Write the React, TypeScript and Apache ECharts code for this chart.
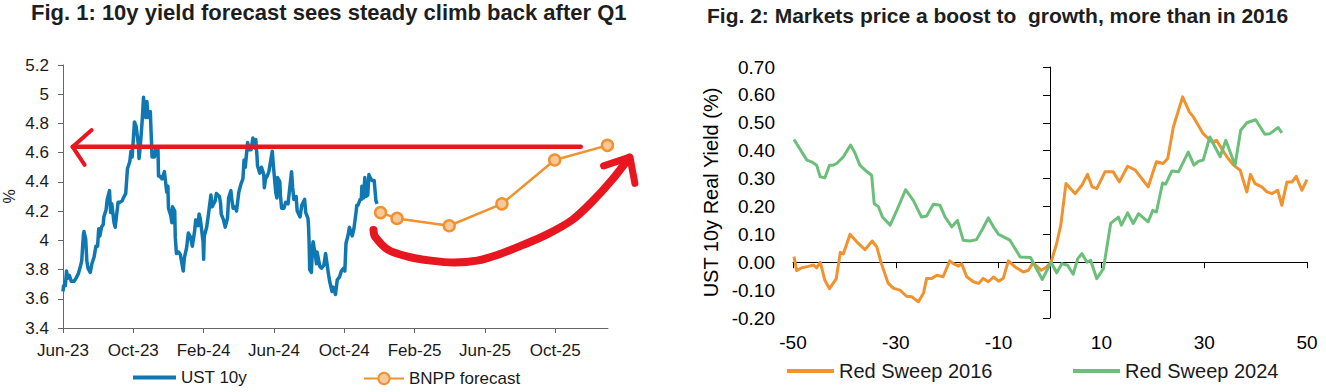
import React, { useEffect, useRef } from 'react';
import * as echarts from 'echarts';

// ---------- Fig. 1 data ----------
const X_TICK_MONTHS = [0, 4, 8, 12, 16, 20, 24, 28];
const X_TICK_LABELS = ['Jun-23', 'Oct-23', 'Feb-24', 'Jun-24', 'Oct-24', 'Feb-25', 'Jun-25', 'Oct-25'];

const UST_DATES = [
  '2023-06-01','2023-06-02','2023-06-05','2023-06-07','2023-06-09','2023-06-12','2023-06-15','2023-06-20','2023-06-23','2023-06-27','2023-06-30',
  '2023-07-03','2023-07-06','2023-07-07','2023-07-10','2023-07-12','2023-07-14','2023-07-18','2023-07-21','2023-07-25','2023-07-28','2023-07-31',
  '2023-08-02','2023-08-04','2023-08-07','2023-08-10','2023-08-11','2023-08-15','2023-08-17','2023-08-21','2023-08-23','2023-08-25','2023-08-29','2023-08-31',
  '2023-09-05','2023-09-08','2023-09-12','2023-09-14','2023-09-18','2023-09-21','2023-09-25','2023-09-27','2023-09-29',
  '2023-10-03','2023-10-06','2023-10-10','2023-10-11','2023-10-13','2023-10-17','2023-10-19','2023-10-20','2023-10-23','2023-10-25','2023-10-27','2023-10-31',
  '2023-11-02','2023-11-03','2023-11-07','2023-11-09','2023-11-13','2023-11-14','2023-11-16','2023-11-20','2023-11-24','2023-11-28','2023-11-30',
  '2023-12-01','2023-12-05','2023-12-07','2023-12-08','2023-12-12','2023-12-13','2023-12-15','2023-12-19','2023-12-22','2023-12-27','2023-12-29',
  '2024-01-02','2024-01-05','2024-01-09','2024-01-12','2024-01-16','2024-01-18','2024-01-22','2024-01-24','2024-01-26','2024-01-31',
  '2024-02-01','2024-02-02','2024-02-06','2024-02-09','2024-02-13','2024-02-15','2024-02-20','2024-02-22','2024-02-27','2024-02-29',
  '2024-03-01','2024-03-05','2024-03-08','2024-03-12','2024-03-14','2024-03-18','2024-03-20','2024-03-22','2024-03-26','2024-03-28',
  '2024-04-01','2024-04-03','2024-04-05','2024-04-08','2024-04-10','2024-04-12','2024-04-16','2024-04-19','2024-04-22','2024-04-25','2024-04-29','2024-04-30',
  '2024-05-02','2024-05-03','2024-05-07','2024-05-10','2024-05-14','2024-05-15','2024-05-17','2024-05-20','2024-05-23','2024-05-29','2024-05-31',
  '2024-06-04','2024-06-06','2024-06-07','2024-06-11','2024-06-12','2024-06-14','2024-06-18','2024-06-21','2024-06-25','2024-06-28',
  '2024-07-01','2024-07-03','2024-07-05','2024-07-09','2024-07-11','2024-07-16','2024-07-19','2024-07-24','2024-07-26','2024-07-30','2024-07-31',
  '2024-08-01','2024-08-02','2024-08-05','2024-08-07','2024-08-08','2024-08-12','2024-08-14','2024-08-15','2024-08-20','2024-08-23','2024-08-27','2024-08-30',
  '2024-09-04','2024-09-06','2024-09-10','2024-09-12','2024-09-16','2024-09-19','2024-09-23','2024-09-26','2024-09-30',
  '2024-10-02','2024-10-04','2024-10-08','2024-10-10','2024-10-15','2024-10-18','2024-10-22','2024-10-23','2024-10-25','2024-10-29','2024-10-31',
  '2024-11-01','2024-11-04','2024-11-06','2024-11-08','2024-11-11','2024-11-13','2024-11-15','2024-11-18','2024-11-20','2024-11-22','2024-11-25','2024-11-27',
];
const UST_VALUES = [
  3.65,3.69,3.69,3.79,3.74,3.76,3.72,3.72,3.74,3.77,3.81,
  3.86,4.04,4.06,4.01,3.86,3.81,3.78,3.84,3.89,3.96,3.96,
  4.08,4.03,4.09,4.11,4.16,4.21,4.28,4.34,4.19,4.25,4.12,4.09,
  4.26,4.26,4.27,4.29,4.32,4.49,4.54,4.61,4.57,
  4.81,4.78,4.65,4.56,4.63,4.84,4.98,4.93,4.84,4.95,4.84,4.88,
  4.67,4.57,4.57,4.62,4.64,4.44,4.44,4.42,4.47,4.33,4.37,
  4.22,4.17,4.12,4.23,4.20,4.02,3.91,3.92,3.90,3.79,3.88,
  3.95,4.05,4.02,3.96,4.06,4.14,4.10,4.18,4.15,3.99,
  3.87,4.03,4.09,4.18,4.31,4.23,4.27,4.32,4.30,4.25,
  4.18,4.14,4.09,4.15,4.29,4.34,4.27,4.22,4.23,4.20,
  4.33,4.36,4.39,4.42,4.55,4.50,4.67,4.62,4.62,4.70,4.63,4.69,
  4.58,4.51,4.46,4.50,4.45,4.36,4.42,4.44,4.47,4.61,4.51,
  4.33,4.29,4.43,4.40,4.31,4.22,4.22,4.26,4.25,4.36,
  4.47,4.36,4.28,4.30,4.20,4.16,4.24,4.28,4.19,4.15,4.09,
  3.98,3.80,3.78,3.96,3.99,3.90,3.84,3.92,3.82,3.81,3.83,3.91,
  3.77,3.72,3.65,3.68,3.63,3.73,3.75,3.79,3.81,
  3.79,3.98,4.04,4.09,4.03,4.08,4.20,4.24,4.24,4.28,4.28,
  4.37,4.29,4.43,4.30,4.31,4.45,4.43,4.41,4.41,4.41,4.27,4.25,
];

const FORECAST_DATES = ['2024-12-03', '2025-01-01', '2025-03-31', '2025-06-30', '2025-09-30', '2025-12-31'];
const FORECAST_VALUES = [4.19, 4.15, 4.10, 4.25, 4.55, 4.65];

// Hand-drawn red annotations, in (month index, yield) units
const LEVEL_LINE = [[0.55, 4.64], [29.45, 4.64]];
const LEFT_ARROW_HEAD = [[1.63, 4.755], [0.55, 4.64], [1.23, 4.516]];
const CLIMB_CURVE = [
  [17.66, 4.07], [17.75, 4.026], [18.5, 3.935], [19.62, 3.889], [20.93, 3.861], [22.24, 3.848],
  [23.55, 3.861], [24.86, 3.907], [26.17, 3.969], [27.48, 4.037], [28.97, 4.14], [30.1, 4.265],
  [31.22, 4.413], [32.2, 4.565],
];
const RIGHT_ARROW_HEAD = [[30.75, 4.51], [32.25, 4.569], [32.53, 4.39]];

// ---------- Fig. 2 data ----------
const SWEEP_2016_X = [
  -49.8,-49.3,-48.3,-47.0,-46.0,-45.4,-44.7,-43.8,-42.9,-41.6,-40.8,-40.2,-38.9,-37.6,-36.0,-34.6,-33.7,-32.8,-31.5,-30.5,
  -29.2,-27.9,-26.9,-25.6,-24.6,-24.0,-23.0,-22.0,-20.8,-19.5,-18.8,-17.8,-17.2,-16.2,-14.9,-13.9,-13.0,-12.0,-11.0,-10.0,
  -9.1,-8.1,-6.8,-5.2,-4.2,-3.3,-1.7,-0.8,0.2,1.3,2.1,3.1,4.9,6.2,7.3,8.2,9.1,10.7,12.3,13.5,
  15.1,16.6,18.1,19.1,20.7,22.0,22.9,24.0,25.8,27.1,27.9,29.8,31.5,32.4,34.4,35.7,37.0,38.3,39.0,39.9,
  41.2,42.2,43.2,44.3,45.1,46.1,47.1,47.9,49.0,50.0,
];
const SWEEP_2016_Y = [
  0.02,-0.03,-0.02,-0.015,-0.01,-0.02,0.0,-0.065,-0.095,-0.06,0.035,0.03,0.10,0.073,0.045,0.076,0.055,-0.005,-0.075,-0.093,
  -0.10,-0.122,-0.124,-0.142,-0.11,-0.058,-0.058,-0.047,-0.052,0.005,-0.005,-0.014,-0.005,-0.052,-0.07,-0.076,-0.058,-0.07,-0.053,-0.068,
  -0.058,0.005,-0.017,-0.035,-0.029,-0.002,-0.029,-0.019,0.0,0.067,0.133,0.282,0.246,0.276,0.315,0.27,0.264,0.324,0.324,0.288,
  0.344,0.33,0.294,0.27,0.36,0.354,0.372,0.485,0.593,0.539,0.521,0.461,0.431,0.437,0.378,0.348,0.33,0.252,0.315,0.282,
  0.27,0.252,0.246,0.258,0.204,0.288,0.288,0.308,0.258,0.296,
];
const SWEEP_2024_X = [
  -49.8,-47.3,-46.4,-45.4,-44.7,-43.8,-42.9,-42.2,-41.5,-40.2,-38.8,-37.9,-37.0,-35.7,-34.7,-34.2,-33.4,-32.6,-31.1,-29.8,
  -28.1,-26.6,-25.0,-24.0,-22.7,-21.4,-20.4,-19.1,-18.0,-16.9,-15.6,-14.3,-13.1,-12.0,-11.0,-10.0,-7.8,-5.8,-3.8,-1.5,
  0.2,1.3,2.3,3.4,4.5,5.4,6.2,7.2,7.9,9.1,10.4,11.8,13.3,13.9,15.1,16.2,17.2,19.1,20.0,20.7,
  21.9,22.5,23.7,25.0,26.9,28.0,28.9,29.8,31.1,33.1,34.2,36.0,37.1,38.3,40.0,41.8,42.8,44.4,45.1,
];
const SWEEP_2024_Y = [
  0.44,0.366,0.36,0.348,0.306,0.303,0.348,0.348,0.354,0.378,0.42,0.39,0.348,0.326,0.312,0.21,0.20,0.162,0.133,0.186,
  0.26,0.222,0.162,0.166,0.208,0.204,0.162,0.127,0.15,0.079,0.076,0.081,0.12,0.159,0.127,0.10,0.079,0.019,0.017,-0.062,
  0.0,-0.038,-0.005,-0.011,-0.043,0.013,0.031,0.0,0.007,-0.059,-0.023,0.139,0.162,0.133,0.177,0.139,0.174,0.145,0.186,0.18,
  0.284,0.28,0.327,0.324,0.395,0.348,0.362,0.366,0.449,0.378,0.437,0.348,0.473,0.50,0.511,0.459,0.461,0.483,0.464,
];

// ---------- helpers ----------
function monthIndex(d: string): number {
  const [y, m, day] = d.split('-').map(Number);
  const dim = new Date(y, m, 0).getDate();
  return (y - 2023) * 12 + (m - 6) + (day - 1) / dim;
}
const zip = (xs: number[], ys: number[]) => xs.map((x, i) => [x, ys[i]]);

const FONT = '"Liberation Sans", Arial, sans-serif';
const BLUE = '#0F78B2';
const ORANGE = '#F0922E';
const GREEN = '#6CBE7B';
const RED = '#E8161F';

export default function App() {
  const ref = useRef<HTMLDivElement>(null);

  useEffect(() => {
    if (!ref.current) return;
    const chart = echarts.init(ref.current, undefined, { renderer: 'svg' });

    const ustData = UST_DATES.map((d, i) => [monthIndex(d), UST_VALUES[i]]);
    const fcData = FORECAST_DATES.map((d, i) => [monthIndex(d), FORECAST_VALUES[i]]);

    const lineLegend = (name: string, left: number, top: number, width: number, fontSize: number) => ({
      data: [name], left, top, padding: 0, itemWidth: width, itemHeight: 4, icon: 'rect',
      textStyle: { fontSize, color: '#1a1a1a', fontFamily: FONT },
    });

    const option: any = {
      animation: false,
      textStyle: { fontFamily: FONT },
      title: [
        {
          text: 'Fig. 1: 10y yield forecast sees steady climb back after Q1',
          left: 31, top: 1, padding: 0,
          textStyle: { fontSize: 22, fontWeight: 'bold', color: '#1e1e1e', fontFamily: FONT },
        },
        {
          text: 'Fig. 2: Markets price a boost to  growth, more than in 2016',
          left: 707, top: 5, padding: 0,
          textStyle: { fontSize: 21, fontWeight: 'bold', color: '#1e1e1e', fontFamily: FONT },
        },
      ],
      legend: [
        lineLegend('UST 10y', 133, 369, 43, 17),
        { data: ['BNPP forecast'], left: 363, top: 370, padding: 0, itemWidth: 40, itemHeight: 14,
          textStyle: { fontSize: 17, color: '#1a1a1a', fontFamily: FONT } },
        lineLegend('Red Sweep 2016', 787, 361, 47, 20),
        lineLegend('Red Sweep 2024', 1073, 361, 47, 20),
      ],
      grid: [
        { left: 57, top: 65, width: 551, height: 263, containLabel: false },
        { left: 793, top: 67, width: 514, height: 251, containLabel: false },
      ],
      xAxis: [
        {
          gridIndex: 0, type: 'value', min: 0, max: 31, position: 'bottom',
          axisLine: { show: true, onZero: false, lineStyle: { color: '#666', width: 1 } },
          axisTick: { show: true, length: 5, customValues: X_TICK_MONTHS, lineStyle: { color: '#666' } },
          axisLabel: {
            customValues: X_TICK_MONTHS, margin: 14, fontSize: 17, color: '#1a1a1a', fontFamily: FONT,
            formatter: (v: number) => X_TICK_LABELS[X_TICK_MONTHS.indexOf(Math.round(v))] ?? '',
          },
          splitLine: { show: false },
        },
        {
          gridIndex: 1, type: 'value', min: -50, max: 50, interval: 20, position: 'bottom',
          axisLine: { show: false, onZero: false },
          axisTick: { show: false },
          axisLabel: { margin: 15, fontSize: 19, color: '#000', fontFamily: FONT },
          splitLine: { show: false },
        },
        {
          gridIndex: 1, type: 'value', min: -50, max: 50, interval: 10, position: 'bottom',
          axisLine: { show: true, onZero: true, onZeroAxisIndex: 1, lineStyle: { color: '#000', width: 1 } },
          axisTick: { show: true, length: 6, customValues: [-50, -30, -10, 10, 30, 50], lineStyle: { color: '#000' } },
          axisLabel: { show: false },
          splitLine: { show: false },
        },
      ],
      yAxis: [
        {
          gridIndex: 0, type: 'value', min: 3.4, max: 5.2, interval: 0.2, position: 'left',
          name: '%', nameLocation: 'middle', nameRotate: 90, nameGap: 46,
          nameTextStyle: { fontSize: 16, color: '#1a1a1a', fontFamily: FONT },
          axisLine: { show: true, onZero: false, lineStyle: { color: '#666', width: 1 } },
          axisTick: { show: true, length: 5, lineStyle: { color: '#666' } },
          axisLabel: {
            margin: 14, fontSize: 17, color: '#1a1a1a', fontFamily: FONT,
            formatter: (v: number) => String(parseFloat(v.toFixed(1))),
          },
          splitLine: { show: false },
        },
        {
          gridIndex: 1, type: 'value', min: -0.2, max: 0.7, interval: 0.1, position: 'left',
          name: 'UST 10y Real Yield (%)', nameLocation: 'middle', nameRotate: 90, nameGap: 72,
          nameTextStyle: { fontSize: 20, color: '#000', fontFamily: FONT },
          axisLine: { show: false, onZero: false },
          axisTick: { show: false },
          axisLabel: {
            margin: 18, fontSize: 19, color: '#000', fontFamily: FONT,
            formatter: (v: number) => v.toFixed(2),
          },
          splitLine: { show: false },
        },
        {
          gridIndex: 1, type: 'value', min: -0.2, max: 0.7, interval: 0.1, position: 'left',
          axisLine: { show: true, onZero: true, onZeroAxisIndex: 1, lineStyle: { color: '#000', width: 1 } },
          axisTick: { show: true, length: 7, lineStyle: { color: '#000' } },
          axisLabel: { show: false },
          splitLine: { show: false },
        },
      ],
      series: [
        {
          name: 'UST 10y', type: 'line', xAxisIndex: 0, yAxisIndex: 0, data: ustData,
          symbol: 'none', showSymbol: false, z: 3,
          lineStyle: { color: BLUE, width: 3.5, join: 'round' }, itemStyle: { color: BLUE },
        },
        {
          name: 'BNPP forecast', type: 'line', xAxisIndex: 0, yAxisIndex: 0, data: fcData,
          symbol: 'circle', symbolSize: 11, showSymbol: true, clip: false, z: 4,
          lineStyle: { color: ORANGE, width: 2.5 },
          itemStyle: { color: '#F6C89C', borderColor: ORANGE, borderWidth: 2.5 },
        },
        {
          name: 'Red Sweep 2016', type: 'line', xAxisIndex: 1, yAxisIndex: 1,
          data: zip(SWEEP_2016_X, SWEEP_2016_Y), symbol: 'none', showSymbol: false,
          lineStyle: { color: ORANGE, width: 3, join: 'round' }, itemStyle: { color: ORANGE },
        },
        {
          name: 'Red Sweep 2024', type: 'line', xAxisIndex: 1, yAxisIndex: 1,
          data: zip(SWEEP_2024_X, SWEEP_2024_Y), symbol: 'none', showSymbol: false,
          lineStyle: { color: GREEN, width: 3, join: 'round' }, itemStyle: { color: GREEN },
        },
      ],
    };

    chart.setOption(option);

    // Red freehand annotations, placed through the left chart's scales
    const toPx = (pts: number[][]) =>
      pts.map((p) => chart.convertToPixel({ xAxisIndex: 0, yAxisIndex: 0 }, p) as number[]);
    const stroke = (width: number) => ({
      stroke: RED, lineWidth: width, fill: null, lineCap: 'round', lineJoin: 'round',
    });
    chart.setOption({
      graphic: [
        { type: 'polyline', z: 10, silent: true, shape: { points: toPx(LEVEL_LINE) }, style: stroke(4.5) },
        { type: 'polyline', z: 10, silent: true, shape: { points: toPx(LEFT_ARROW_HEAD) }, style: stroke(4) },
        { type: 'polyline', z: 10, silent: true, shape: { points: toPx(CLIMB_CURVE), smooth: 0.3 }, style: stroke(8) },
        { type: 'polyline', z: 10, silent: true, shape: { points: toPx(RIGHT_ARROW_HEAD) }, style: stroke(7) },
      ],
    });

    return () => chart.dispose();
  }, []);

  return (
    <div
      ref={ref}
      style={{ position: 'absolute', left: 0, top: 0, width: 1326, height: 392, background: '#fff' }}
    />
  );
}
